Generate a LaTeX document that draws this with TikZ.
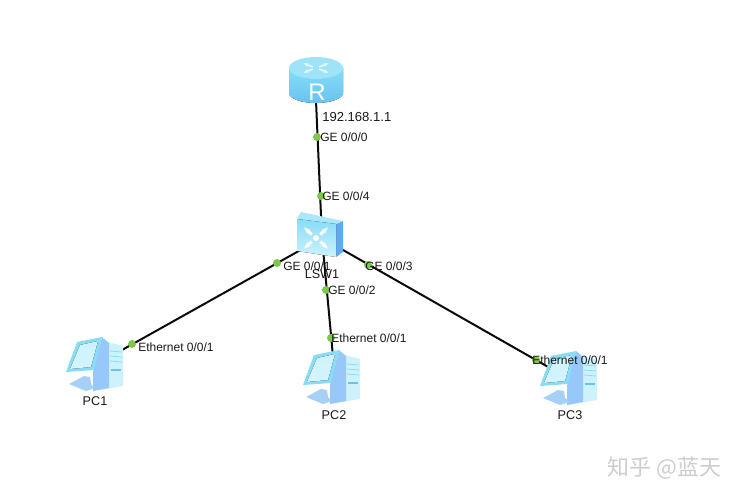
\documentclass[tikz,border=0pt]{standalone}
\usepackage{fontspec}
\setmainfont{Liberation Sans}
\newfontfamily\cjkfont{Noto Sans CJK SC}
\usetikzlibrary{arrows.meta, calc}
\definecolor{linkblack}{RGB}{10, 10, 10}
\definecolor{portgreen}{RGB}{125, 200, 70}
\definecolor{labelgray}{RGB}{25, 25, 25}
\definecolor{marklight}{RGB}{205, 205, 205}
\definecolor{iconpale}{RGB}{205, 242, 252}
\definecolor{iconcyan}{RGB}{135, 220, 248}
\definecolor{iconsky}{RGB}{105, 195, 240}
\definecolor{iconblue}{RGB}{95, 170, 245}
\tikzset{
    device/.style={inner sep=0pt, minimum size=0pt},
    link/.style={draw=linkblack, line width=1.5pt},
    port/.style={circle, fill=portgreen, inner sep=0pt, minimum size=6pt},
    tag/.style={anchor=west, inner sep=0pt, text=labelgray, font=\fontsize{9}{9}\selectfont},
    hostname/.style={inner sep=0pt, text=labelgray, font=\fontsize{9.5}{9.5}\selectfont},
    router/.pic={
        \fill[top color=iconcyan, bottom color=iconsky] (-27,-10) -- (-27,15) arc[start angle=180, end angle=0, x radius=27, y radius=10] -- (27,-10) -- cycle;
        \fill[iconcyan!80!white] (0,-10) ellipse[x radius=27, y radius=11];
        \foreach \a in {35,145,215,325}
            \draw[white!85!iconcyan, line width=1.1pt, -{Stealth[length=3.5pt]}] ($(0,-10)+(\a:4 and 2)$) -- ($(0,-10)+(\a:15 and 8)$);
        \node[white, inner sep=0pt, font=\fontsize{18}{18}\selectfont] at (1,14) {R};
    },
    switchbox/.pic={
        \fill[iconblue] (16,-12) -- (23,-15) -- (23,16) -- (16,21) -- cycle;
        \fill[iconcyan!70!white] (-23,-17) -- (-19,-24) -- (23,-15) -- (16,-12) -- cycle;
        \fill[top color=iconcyan, bottom color=iconpale] (-23,-17) -- (16,-12) -- (16,21) -- (-23,15) -- cycle;
        \fill[white] (-4,2) circle[radius=3];
        \foreach \a in {45,135,225,315}
            \draw[white, line width=2.2pt, {Stealth[length=5pt]}-] ($(-4,2)+(\a:17 and 15)$) -- ($(-4,2)+(\a:6 and 5)$);
    },
    pcbox/.pic={
        \fill[iconpale] (8,-23) -- (27,-18) -- (27,22) -- (-3,27) -- cycle;
        \foreach \h in {-13,-8,-3}
            \draw[iconcyan, line width=.6pt] (14,\h) -- (26,\h+1);
        \draw[iconsky, line width=.8pt] (15,6) -- (25,6);
        \fill[iconblue!65!white] (6,-27) -- (13,-21) -- (13,24) -- (-3,27) -- (-3,8) -- cycle;
        \fill[iconblue!55!white] (-27,20) -- (-12,12) -- (-6,13) -- (-5,20) -- (-1,24) -- (-10,27) -- cycle;
        \fill[iconcyan] (-19,-22) -- (6,-27) -- (-2,6) -- (-30,8) -- cycle;
        \fill[top color=iconpale, bottom color=iconpale!85!white] (-16,-19) -- (2,-23) -- (-5,3) -- (-26,5) -- cycle;
    }
}
\begin{document}
\begin{tikzpicture}[x=0.75pt, y=-0.75pt]
    \useasboundingbox (0,0) rectangle (742,500);

    % Devices
    \node[device] (R) at (315,78) {};
    \node[device] (LSW1) at (322,238) {};
    \node[device] (PC1) at (97,364) {};
    \node[device] (PC2) at (335,378) {};
    \node[device] (PC3) at (571,380) {};

    % Links
    \draw[link] (R) -- (LSW1);
    \draw[link] (LSW1) -- (PC1);
    \draw[link] (LSW1) -- (PC2);
    \draw[link] (LSW1) -- (PC3);

    % Icons
    \pic at (316,78) {router};
    \pic at (320,236) {switchbox};
    \pic at (96,364) {pcbox};
    \pic at (333,377) {pcbox};
    \pic at (570,378) {pcbox};

    % Ports
    \node[port] (p1) at (317,137) {};
    \node[port] (p2) at (321,196) {};
    \node[port] (p3) at (277,263) {};
    \node[port] (p4) at (326,290) {};
    \node[port] (p5) at (368,265) {};
    \node[port] (p6) at (132,344) {};
    \node[port] (p7) at (331,338) {};
    \node[port] (p8) at (536,360) {};

    % Port labels
    \node[tag, font=\fontsize{9.8}{9.8}\selectfont] (ip) at (322,117) {192.168.1.1};
    \node[tag] (t1) at (320,137) {GE 0/0/0};
    \node[tag] (t2) at (322,196) {GE 0/0/4};
    \node[tag] (t3) at (283,266) {GE 0/0/1};
    \node[tag] (t4) at (328,290) {GE 0/0/2};
    \node[tag] (t5) at (365,266) {GE 0/0/3};
    \node[tag] (t6) at (138,347) {Ethernet 0/0/1};
    \node[tag] (t7) at (331,338) {Ethernet 0/0/1};
    \node[tag] (t8) at (532,360) {Ethernet 0/0/1};

    % Device names
    \node[hostname] (nSW) at (322,274) {LSW1};
    \node[hostname] (n1) at (95,401) {PC1};
    \node[hostname] (n2) at (334,415) {PC2};
    \node[hostname] (n3) at (570,415) {PC3};

    % Watermark
    \node[inner sep=0pt, anchor=west, text=marklight, font=\fontsize{16.5}{16.5}\selectfont] (mark) at (607,468) {\cjkfont 知乎 @蓝天};
\end{tikzpicture}
\end{document}
